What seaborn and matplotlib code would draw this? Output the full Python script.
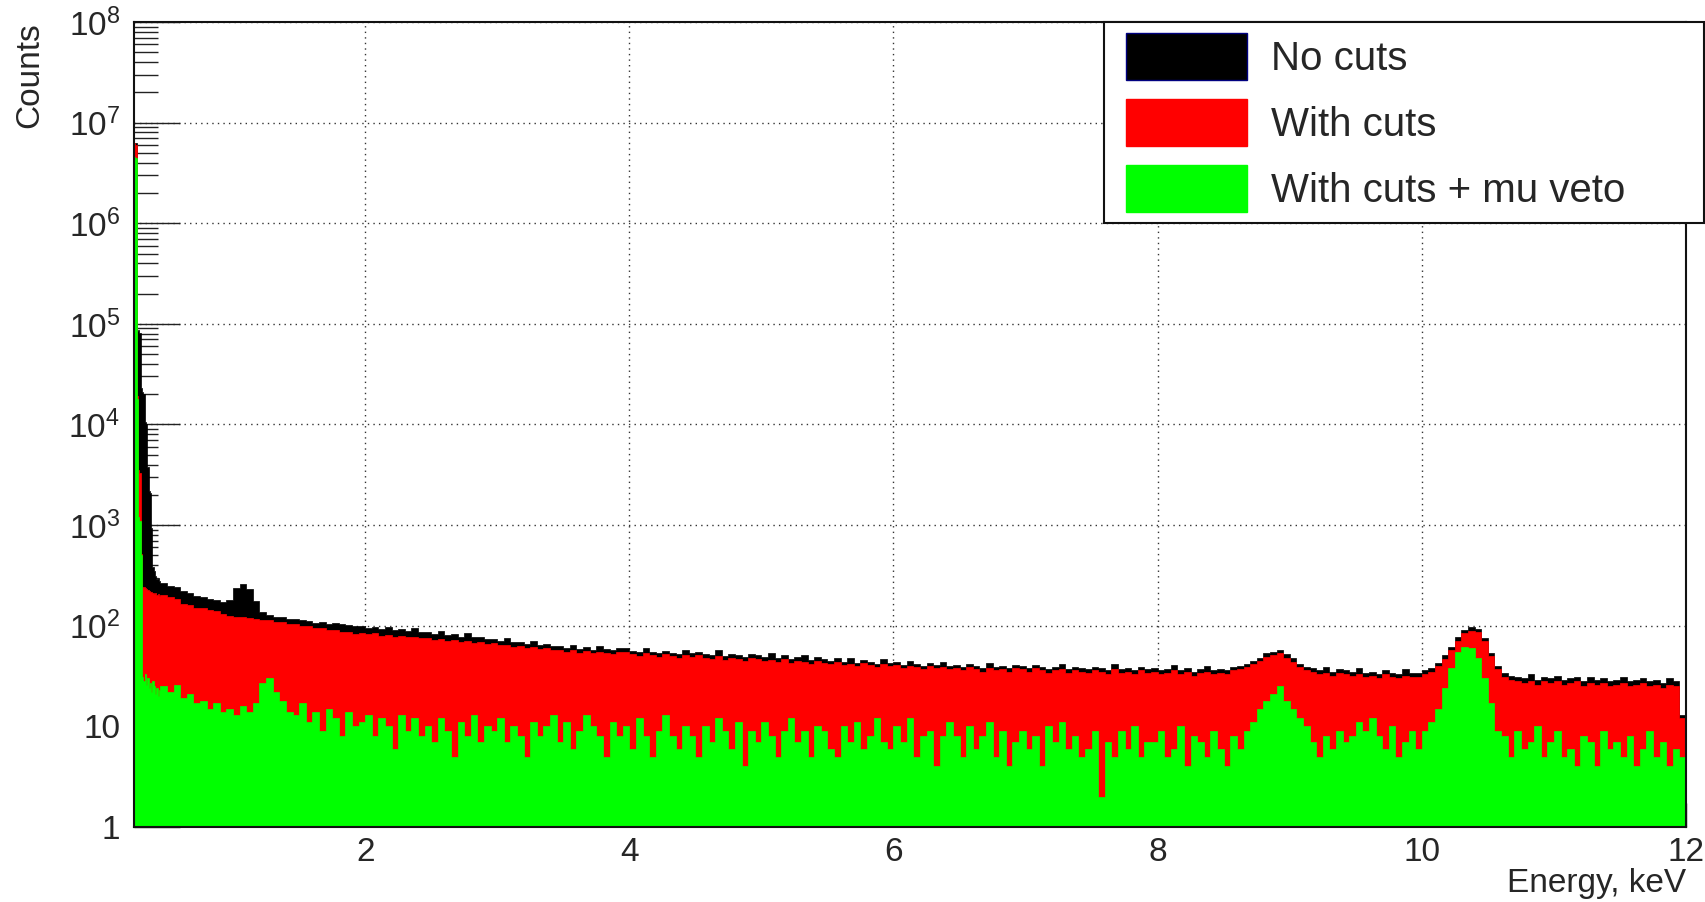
import numpy as np
import matplotlib
matplotlib.use("Agg")
import matplotlib.pyplot as plt
import seaborn as sns
from matplotlib.patches import Patch
from matplotlib.legend_handler import HandlerPatch
from matplotlib.ticker import FixedLocator, FixedFormatter, NullFormatter

# ---------------- data ----------------
# bin edges: 0.01 keV bins from 0.25 to 0.45, then 0.05 keV bins up to 12 keV
fine_left = np.linspace(0.25, 0.45, 21)[:-1]
coarse_edges = np.linspace(0.45, 12.0, 232)
bin_edges = np.concatenate([fine_left, coarse_edges])

labels = ["No cuts", "With cuts", "With cuts + mu veto"]
colors = ["#000000", "#ff0000", "#00ff00"]

# counts per bin, 0.25-0.45 keV (0.01 keV bins)
black_low = [6.3e6, 6.3e6, 8.5e4, 8.6e4, 8.2e4, 2.3e4, 2.1e4, 2.0e4, 1.05e4, 1.0e4,
             3.8e3, 2.2e3, 2.1e3, 9.4e2, 3.8e2, 3.5e2, 3.1e2, 2.9e2, 3.0e2, 2.8e2]
red_low = [6.3e6, 6.0e6, 1.9e4, 3.5e3, 3.3e3, 5.2e2, 2.45e2, 2.4e2, 2.35e2, 2.3e2,
           2.25e2, 2.2e2, 2.15e2, 2.15e2, 2.1e2, 2.05e2, 2.1e2, 2.0e2, 2.05e2, 1.98e2]
green_low = [4.6e6, 4.5e6, 1.8e4, 1.2e3, 1.1e3, 5.0e2, 31, 28, 33, 26,
             30, 24, 27, 22, 28, 25, 21, 24, 20, 23]

# counts per bin, 0.45-12.0 keV (0.05 keV bins), one row = 0.5 keV
black_high = [
    266, 249, 240, 224, 213, 199, 194, 185, 181, 174,
    181, 238, 258, 234, 176, 136, 127, 123, 121, 117,
    117, 113, 112, 107, 108, 104, 106, 103, 101, 99,
    99, 95, 97, 92, 98, 90, 92, 88, 94, 86,
    86, 83, 89, 81, 82, 78, 84, 77, 78, 74,
    74, 71, 76, 69, 69, 66, 70, 65, 66, 63,
    63, 60, 65, 59, 61, 58, 63, 59, 57, 60,
    60, 56, 55, 60, 55, 53, 56, 54, 52, 57,
    53, 55, 52, 51, 57, 50, 52, 51, 49, 52,
    51, 49, 53, 48, 51, 47, 49, 51, 46, 49,
    47, 45, 48, 44, 48, 43, 46, 44, 42, 47,
    43, 44, 41, 45, 42, 40, 43, 41, 44, 40,
    41, 39, 42, 40, 38, 43, 39, 40, 38, 41,
    40, 38, 41, 39, 37, 39, 42, 37, 39, 38,
    37, 39, 38, 36, 42, 37, 38, 36, 39, 37,
    38, 36, 37, 41, 36, 38, 35, 37, 40, 36,
    37, 36, 39, 40, 42, 45, 48, 53, 55, 58,
    52, 48, 42, 39, 38, 36, 39, 35, 37, 36,
    35, 38, 34, 35, 33, 36, 34, 33, 37, 34,
    34, 36, 38, 43, 51, 62, 77, 91, 97, 93,
    76, 54, 40, 34, 32, 31, 30, 33, 29, 31,
    30, 32, 29, 30, 31, 28, 31, 29, 30, 28,
    29, 31, 28, 29, 30, 28, 29, 27, 30, 28,
    13]
red_high = [
    201, 192, 184, 166, 161, 151, 149, 142, 139, 131,
    126, 121, 121, 119, 118, 114, 113, 110, 110, 105,
    104, 100, 99, 95, 94, 90, 90, 86, 86, 83,
    85, 82, 84, 80, 81, 78, 80, 77, 78, 76,
    75, 73, 74, 71, 72, 69, 70, 68, 69, 66,
    67, 64, 65, 62, 63, 60, 61, 59, 60, 57,
    58, 55, 57, 54, 56, 53, 55, 54, 52, 55,
    55, 52, 50, 53, 51, 49, 52, 50, 48, 51,
    49, 51, 48, 47, 50, 46, 48, 47, 45, 48,
    47, 45, 46, 44, 47, 43, 45, 44, 42, 45,
    43, 42, 44, 41, 42, 40, 43, 41, 39, 42,
    40, 41, 38, 40, 39, 37, 40, 38, 39, 37,
    38, 36, 39, 37, 35, 38, 36, 37, 35, 38,
    37, 35, 38, 36, 34, 36, 37, 34, 36, 35,
    34, 36, 35, 33, 37, 34, 35, 33, 36, 34,
    35, 33, 34, 36, 33, 35, 32, 34, 35, 33,
    34, 33, 36, 37, 39, 42, 45, 49, 51, 53,
    48, 44, 39, 36, 35, 33, 34, 32, 34, 33,
    32, 33, 31, 32, 30, 33, 31, 30, 32, 31,
    31, 33, 35, 40, 47, 57, 71, 84, 89, 86,
    70, 50, 37, 31, 29, 28, 27, 28, 26, 28,
    27, 28, 26, 27, 28, 25, 27, 26, 27, 25,
    26, 27, 25, 26, 27, 25, 26, 24, 26, 25,
    12]
green_high = [
    25, 22, 26, 19, 21, 17, 18, 15, 17, 14,
    15, 13, 16, 14, 17, 27, 30, 22, 18, 14,
    13, 17, 11, 14, 9, 15, 12, 8, 14, 10,
    11, 13, 8, 12, 10, 6, 13, 9, 12, 8,
    10, 7, 12, 9, 5, 11, 8, 13, 7, 10,
    9, 12, 7, 10, 8, 5, 11, 8, 10, 13,
    7, 11, 6, 9, 13, 10, 8, 5, 11, 8,
    10, 6, 12, 8, 5, 9, 13, 8, 6, 10,
    8, 5, 10, 7, 12, 9, 6, 11, 4, 9,
    7, 11, 8, 5, 9, 12, 7, 9, 5, 10,
    9, 6, 5, 10, 7, 11, 6, 8, 12, 7,
    6, 10, 7, 12, 5, 8, 9, 4, 8, 11,
    8, 5, 10, 6, 8, 11, 5, 9, 4, 7,
    9, 6, 8, 4, 10, 7, 11, 6, 8, 5,
    6, 9, 2, 7, 5, 9, 6, 10, 5, 7,
    7, 9, 5, 6, 10, 4, 8, 7, 5, 9,
    6, 4, 8, 6, 9, 11, 15, 18, 21, 25,
    18, 15, 12, 10, 7, 5, 8, 6, 9, 7,
    8, 11, 9, 12, 8, 6, 10, 5, 7, 9,
    6, 9, 11, 15, 24, 38, 55, 62, 60, 48,
    30, 17, 9, 8, 5, 9, 6, 7, 10, 5,
    7, 9, 5, 6, 4, 8, 7, 4, 9, 6,
    7, 5, 8, 4, 6, 9, 5, 7, 4, 6,
    5]

series = [black_low + black_high, red_low + red_high, green_low + green_high]

y_tick_values = [1, 10, 1e2, 1e3, 1e4, 1e5, 1e6, 1e7, 1e8]
y_tick_labels = ["1", "10"] + [r"$\mathregular{10^{%d}}$" % k for k in range(2, 9)]
x_tick_values = [2, 4, 6, 8, 10, 12]
x_tick_labels = ["2", "4", "6", "8", "10", "12"]

# ---------------- figure ----------------
sns.set_theme(style="white")
plt.rcParams["font.family"] = ["Liberation Sans", "DejaVu Sans"]
plt.rcParams["mathtext.fontset"] = "custom"
plt.rcParams["mathtext.rm"] = "Liberation Sans"
plt.rcParams["mathtext.it"] = "Liberation Sans:italic"

fig = plt.figure(figsize=(17.06, 9.02), dpi=100)
fig.patch.set_facecolor("white")
ax = fig.add_axes([0.07855, 0.08315, 0.90973, 0.89246])
ax.set_facecolor("white")

centers = 0.5 * (bin_edges[:-1] + bin_edges[1:])
edge_list = [float(e) for e in bin_edges]
for vals, col in zip(series, colors):
    sns.histplot(x=centers, weights=np.asarray(vals, dtype=float), bins=edge_list,
                 element="step", fill=True, color=col, alpha=1.0,
                 edgecolor=col, linewidth=0.5, ax=ax, stat="count")

ax.set_yscale("log")
ax.set_xlim(0.25, 12.0)
ax.set_ylim(1, 1e8)

ax.set_axisbelow(True)
ax.grid(True, which="major", color="#333333", linestyle=(0, (1, 3)), linewidth=1.0)

ax.yaxis.set_major_locator(FixedLocator(y_tick_values))
ax.yaxis.set_major_formatter(FixedFormatter(y_tick_labels))
minor = [m * 10.0 ** k for k in range(0, 8) for m in range(2, 10)]
ax.yaxis.set_minor_locator(FixedLocator(minor))
ax.yaxis.set_minor_formatter(NullFormatter())
ax.xaxis.set_major_locator(FixedLocator(x_tick_values))
ax.xaxis.set_major_formatter(FixedFormatter(x_tick_labels))
ax.xaxis.set_minor_locator(FixedLocator([]))

ax.tick_params(axis="y", which="major", direction="in", length=33, width=1.0,
               color="#222222", labelsize=24, pad=10, left=True, right=False)
ax.tick_params(axis="y", which="minor", direction="in", length=17, width=1.0,
               color="#222222", left=True, right=False)
ax.tick_params(axis="x", which="major", direction="in", length=17, width=1.0,
               color="#222222", labelsize=24, pad=7, bottom=True, top=False)

for sp in ax.spines.values():
    sp.set_visible(True)
    sp.set_color("#111111")
    sp.set_linewidth(1.5)

ax.set_xlabel("Energy, keV", fontsize=24, loc="right")
ax.xaxis.label.set_verticalalignment("baseline")
ax.xaxis.set_label_coords(1.0, -0.081)
ax.set_ylabel("Counts", fontsize=24, loc="top")
ax.yaxis.label.set_verticalalignment("baseline")
ax.yaxis.set_label_coords(-0.0615, 1.0)

handles = [Patch(facecolor="#000000", edgecolor="#000080", linewidth=1.0),
           Patch(facecolor="#ff0000", edgecolor="#ff0000", linewidth=1.0),
           Patch(facecolor="#00ff00", edgecolor="#00ff00", linewidth=1.0)]
leg = fig.legend(handles, labels, loc="upper left",
                 bbox_to_anchor=(0.6471, 0.0, 0.3517, 0.9756),
                 bbox_transform=fig.transFigure, mode="expand", borderaxespad=0,
                 fontsize=29, handlelength=3.27, handleheight=1.41,
                 labelspacing=0.48, handletextpad=0.6, borderpad=0.27,
                 handler_map={Patch: HandlerPatch(xpad=0.27)},
                 frameon=True, fancybox=False, framealpha=1.0, edgecolor="#111111")
leg.get_frame().set_linewidth(1.5)

fig.savefig("out.png", dpi=100, facecolor="white")
